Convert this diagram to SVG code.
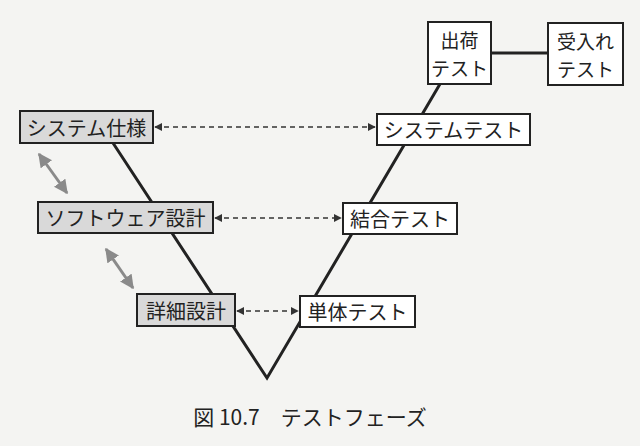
<svg xmlns="http://www.w3.org/2000/svg" width="640" height="446" viewBox="0 0 640 446">
<style>
text{font-family:"Noto Sans CJK JP","Noto Sans CJK SC",sans-serif;font-size:20px;fill:#222;text-anchor:middle;dominant-baseline:central}
.s{font-size:19px}
.g rect{fill:#d9d9d9;stroke:#222;stroke-width:2}
.w rect{fill:#fff;stroke:#222;stroke-width:2}
.v{fill:none;stroke:#222;stroke-width:3}
.d{stroke:#333;stroke-width:1.3;stroke-dasharray:5 4;fill:none}
.gr{stroke:#8a8a8a;stroke-width:3;fill:none}
</style>
<defs>
<marker id="ah" viewBox="0 0 10 10" refX="9" refY="5" markerWidth="8" markerHeight="8" markerUnits="userSpaceOnUse" orient="auto-start-reverse"><path d="M0,0 L10,5 L0,10 z" fill="#333"/></marker>
<marker id="gh" viewBox="0 0 10 10" refX="9" refY="5" markerWidth="14" markerHeight="14" markerUnits="userSpaceOnUse" orient="auto-start-reverse"><path d="M0,0 L10,5 L0,10 z" fill="#8a8a8a"/></marker>
</defs>
<rect width="640" height="446" fill="#f4f4f2"/>
<g id="connectors">
<polyline class="v" points="113,143 267,378 440,84"/>
<line x1="491" y1="53" x2="548" y2="53" stroke="#222" stroke-width="3"/>
<line class="d" x1="155" y1="127" x2="375" y2="127" marker-start="url(#ah)" marker-end="url(#ah)"/>
<line class="d" x1="215" y1="218" x2="341" y2="218" marker-start="url(#ah)" marker-end="url(#ah)"/>
<line class="d" x1="237" y1="311" x2="298" y2="311" marker-start="url(#ah)" marker-end="url(#ah)"/>
<line class="gr" x1="39" y1="154" x2="67" y2="193" marker-start="url(#gh)" marker-end="url(#gh)"/>
<line class="gr" x1="106" y1="249" x2="133" y2="288" marker-start="url(#gh)" marker-end="url(#gh)"/>
</g>
<g id="system-spec" class="g"><rect x="20" y="111" width="133" height="32"/><text x="86.5" y="127">システム仕様</text></g>
<g id="software-design" class="g"><rect x="38" y="202" width="175" height="31"/><text x="125.5" y="217.5">ソフトウェア設計</text></g>
<g id="detail-design" class="g"><rect x="137" y="294" width="98" height="32"/><text x="186" y="310">詳細設計</text></g>
<g id="unit-test" class="w"><rect x="300" y="296" width="115" height="31"/><text x="357.5" y="311.5">単体テスト</text></g>
<g id="integration-test" class="w"><rect x="343" y="203" width="114" height="31"/><text x="400" y="218.5">結合テスト</text></g>
<g id="system-test" class="w"><rect x="377" y="114" width="153" height="31"/><text x="453.5" y="129.5">システムテスト</text></g>
<g id="shipping-test" class="w"><rect x="428" y="22" width="63" height="62"/><text class="s"><tspan x="459.5" y="39">出荷</tspan><tspan x="459.5" y="67">テスト</tspan></text></g>
<g id="acceptance-test" class="w"><rect x="548" y="23" width="75" height="62"/><text class="s"><tspan x="585.5" y="40">受入れ</tspan><tspan x="585.5" y="68">テスト</tspan></text></g>
<text x="310" y="416" style="font-size:21px">図 10.7　テストフェーズ</text>
</svg>
